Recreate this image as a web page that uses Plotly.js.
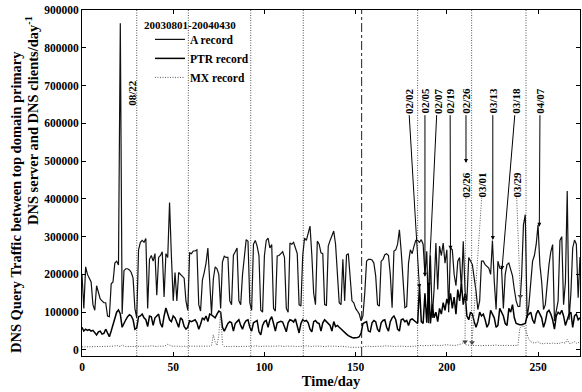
<!DOCTYPE html>
<html><head><meta charset="utf-8">
<script src="https://cdn.plot.ly/plotly-3.0.1.min.js"></script>
<style>html,body{margin:0;padding:0;background:#fff}#chart{width:582px;height:392px}</style>
</head><body><div id="chart"></div>
<script>
// Daily query counts in thousands, day 0 = 2003-08-01
const aRecordK = [
200,110,220,200,190,180,120,105,170,150,
135,130,125,125,90,88,175,180,230,235,
225,865,95,210,215,215,212,205,190,110,
85,265,285,290,285,295,110,240,250,235,
255,145,245,250,260,140,255,245,390,250,
130,205,130,205,200,195,190,129,105,257,
255,262,262,265,120,103,185,205,230,270,
190,95,188,220,215,200,110,233,248,245,
245,130,120,251,260,270,130,120,200,255,
292,288,125,105,280,290,275,250,105,100,
250,290,296,270,279,110,103,249,250,255,
260,245,110,100,283,280,285,270,255,120,
116,250,296,290,310,328,250,150,120,288,
280,257,255,120,118,275,290,305,315,280,
209,125,120,240,130,251,255,190,130,125,
110,103,95,77,90,150,235,240,240,238,
230,196,120,116,235,240,252,255,250,200,
112,262,265,280,318,260,173,112,115,230,
265,255,275,290,290,285,292,280,200,261,
71,250,85,160,283,160,275,250,283,230,
265,100,270,265,200,170,235,245,160,288,
155,130,245,235,226,190,156,107,130,235,
235,226,220,217,200,290,182,107,235,217,
215,110,200,226,230,215,196,160,130,115,
115,196,331,358,85,120,180,235,250,280,
331,226,180,107,120,180,226,260,279,77,
105,130,290,300,120,180,421,80,150,270,
291,280,138,246];
const ptrRecordK = [
60,50,55,52,54,50,52,45,40,48,
50,42,44,55,45,35,50,67,85,100,
106,95,60,72,80,88,93,90,80,55,
58,88,90,95,85,80,62,90,88,65,
85,90,95,70,60,90,111,95,80,75,
90,85,70,60,85,80,62,55,60,77,
75,78,80,72,55,68,85,80,90,75,
95,93,90,85,95,103,100,60,50,62,
70,75,72,50,70,75,80,65,55,70,
78,80,60,50,72,75,78,48,40,65,
75,78,60,80,88,70,50,72,75,76,
74,60,48,72,80,78,74,82,60,45,
70,80,76,78,72,55,48,75,78,72,
70,50,72,80,75,70,65,50,75,62,
65,60,55,50,45,42,38,35,33,32,
32,33,35,45,70,72,75,50,48,72,
78,75,55,48,72,78,80,60,50,75,
85,90,80,55,50,80,82,75,78,65,
80,82,78,75,70,170,75,70,150,72,
170,70,120,85,100,75,110,95,125,105,
135,120,150,110,140,95,160,130,175,120,
150,90,80,100,95,75,60,75,100,90,
95,80,60,70,105,95,85,60,65,110,
100,90,70,65,110,100,120,85,70,68,
67,67,68,70,90,95,100,80,70,95,
105,95,85,60,75,100,105,95,80,55,
90,100,95,105,90,65,80,95,100,60,
90,95,80,85];
const mxRecordK = [
8,8,9,9,8,8,9,8,8,9,
9,8,8,9,9,8,9,10,11,12,
10,9,14,10,9,9,10,10,9,8,
9,10,10,9,10,10,9,10,11,10,
10,9,10,10,9,10,12,15,13,10,
10,9,10,10,9,9,10,9,8,10,
10,9,10,9,8,9,10,10,10,9,
10,12,40,22,12,40,100,15,9,9,
10,9,9,10,10,9,9,10,10,9,
10,9,9,10,10,11,10,9,9,10,
10,9,10,10,9,9,10,10,11,10,
9,9,10,10,10,11,10,9,9,10,
10,10,10,11,10,9,9,10,10,10,
11,10,9,10,10,10,10,9,10,10,
9,9,10,10,9,8,8,7,7,6,
6,6,7,8,9,9,10,10,9,9,
10,10,9,9,10,10,11,10,9,10,
10,9,9,10,10,11,10,9,9,10,
10,10,9,10,11,12,12,11,12,12,
11,12,12,13,12,11,12,12,13,14,
14,13,12,13,12,12,13,14,16,20,
15,13,12,13,12,12,13,12,11,12,
13,12,12,13,12,12,13,13,12,12,
13,12,12,13,13,12,12,13,12,12,
58,62,65,55,40,28,22,20,18,20,
22,18,17,16,18,17,16,17,18,17,
18,17,18,20,19,18,28,18,17,20,
22,18,20,18];
const seriesNames = ['A record', 'PTR record', 'MX record'];
const periodLabel = '20030801-20040430';
const xTicks = [0, 50, 100, 150, 200, 250];
const yTicks = [0, 100000, 200000, 300000, 400000, 500000, 600000, 700000, 800000, 900000];
const markerDays = [30, 58.3, 92.5, 121.3, 184, 213.6, 243.4];
const newYearDay = 153.3;
// date annotations (solid arrows)
const arrowLabels = ['02/02', '02/05', '02/07', '02/19', '02/26', '03/13', '03/18', '04/07'];
const arrowHeadDays = [185, 188, 190, 202, 210.5, 225.2, 230.2, 250.7];
const arrowHeadValues = [164000, 194000, 167000, 265000, 495000, 291000, 212000, 326000];
const arrowTailDays = [178.9, 188.0, 194.8, 201.8, 210.5, 225.2, 237.9, 251.1];
const arrowTailValue = 660000;
// date annotations (dotted arrows)
const dottedLabels = ['02/26', '03/01', '03/29'];
const dottedHeadDays = [210, 213.8, 240.3];
const dottedHeadValues = [22000, 20000, 142000];
const dottedTailDays = [210.4, 219.1, 238.3];
const dottedTailValue = 437000;
const spikeLabel = '08/22';
const spikeLabelDay = 27.2;
const spikeLabelValue = 680000;

const days = aRecordK.map((_, i) => i);
const toUnits = arr => arr.map(v => v * 1000);
const serif = 'Liberation Serif, Times New Roman, serif';
const bold = (size) => ({family: serif, size: size, weight: 'bold', color: '#000'});

const traces = [
  {x: days, y: toUnits(aRecordK), name: seriesNames[0], type: 'scatter', mode: 'lines',
   line: {color: '#111', width: 1.2}},
  {x: days, y: toUnits(ptrRecordK), name: seriesNames[1], type: 'scatter', mode: 'lines',
   line: {color: '#000', width: 1.5}},
  {x: days, y: toUnits(mxRecordK), name: seriesNames[2], type: 'scatter', mode: 'lines',
   line: {color: '#555', width: 1, dash: '1px,1.5px'}},
  {x: dottedHeadDays, y: dottedHeadValues, type: 'scatter', mode: 'markers', showlegend: false,
   hoverinfo: 'skip', marker: {symbol: 'triangle-down', size: 5, color: '#444'}}
];

const shapes = markerDays.map(d => ({type: 'line', xref: 'x', yref: 'paper', x0: d, x1: d, y0: 0, y1: 1,
  line: {color: '#555', width: 1, dash: '1px,1.5px'}, layer: 'below'}));
shapes.push({type: 'line', xref: 'x', yref: 'paper', x0: newYearDay, x1: newYearDay, y0: 0, y1: 1,
  line: {color: '#222', width: 1, dash: 'dashdot'}, layer: 'below'});
dottedLabels.forEach((l, i) => shapes.push({type: 'line', xref: 'x', yref: 'y',
  x0: dottedTailDays[i], y0: dottedTailValue - 34000, x1: dottedHeadDays[i], y1: dottedHeadValues[i],
  line: {color: '#555', width: 1, dash: '1px,1.5px'}}));

const annotations = [];
arrowLabels.forEach((l, i) => annotations.push({
  x: arrowHeadDays[i], y: arrowHeadValues[i], ax: arrowTailDays[i], ay: arrowTailValue,
  xref: 'x', yref: 'y', axref: 'x', ayref: 'y', text: l, textangle: -90, showarrow: true,
  arrowhead: 2, arrowsize: 0.8, arrowwidth: 1, arrowcolor: '#000', standoff: 0, startstandoff: 0,
  font: bold(11)}));
dottedLabels.forEach((l, i) => {
  annotations.push({x: dottedTailDays[i], y: dottedTailValue, xref: 'x', yref: 'y', text: l,
    textangle: -90, showarrow: false, font: bold(11)});
});
annotations.push({x: spikeLabelDay, y: spikeLabelValue, xref: 'x', yref: 'y', text: spikeLabel,
  textangle: -90, showarrow: false, font: bold(11)});
annotations.push({x: 0.12, y: 0.957, xref: 'paper', yref: 'paper', xanchor: 'left', yanchor: 'middle',
  text: periodLabel, showarrow: false, font: bold(11)});
annotations.push({x: -0.1325, y: 0.445, xref: 'paper', yref: 'paper', xanchor: 'center', yanchor: 'middle',
  textangle: -90, showarrow: false,
  text: 'DNS Query Traffic between top domain primary', font: bold(14.5)});
annotations.push({x: -0.1004, y: 0.679, xref: 'paper', yref: 'paper', xanchor: 'center', yanchor: 'middle',
  textangle: -90, showarrow: false,
  text: 'DNS server and DNS clients/day<sup>-1</sup>', font: bold(14.5)});

const axisCommon = {showline: true, linecolor: '#000', linewidth: 1, mirror: 'ticks', ticks: 'inside',
  ticklen: 4, tickcolor: '#000', showgrid: false, zeroline: false, tickfont: bold(11.5)};

const layout = {
  width: 582, height: 392, margin: {l: 82, r: 2, t: 10, b: 36},
  paper_bgcolor: '#fff', plot_bgcolor: '#fff', font: {family: serif, weight: 'bold', color: '#000'},
  xaxis: Object.assign({}, axisCommon, {range: [0, 273], tickvals: xTicks,
    ticktext: xTicks.map(v => '<b>' + v + '</b>'),
    title: {text: 'Time/day', font: bold(14.5), standoff: 3}}),
  yaxis: Object.assign({}, axisCommon, {range: [-16000, 900000], tickvals: yTicks,
    ticktext: yTicks.map(v => '<b>' + v + '</b>')}),
  legend: {x: 0.1365, y: 0.957, xanchor: 'left', yanchor: 'top', bgcolor: 'rgba(0,0,0,0)',
    font: bold(11.5), itemwidth: 30, tracegroupgap: 0},
  showlegend: true, shapes: shapes, annotations: annotations
};
Plotly.newPlot('chart', traces, layout, {displayModeBar: false, staticPlot: true});
</script></body></html>
